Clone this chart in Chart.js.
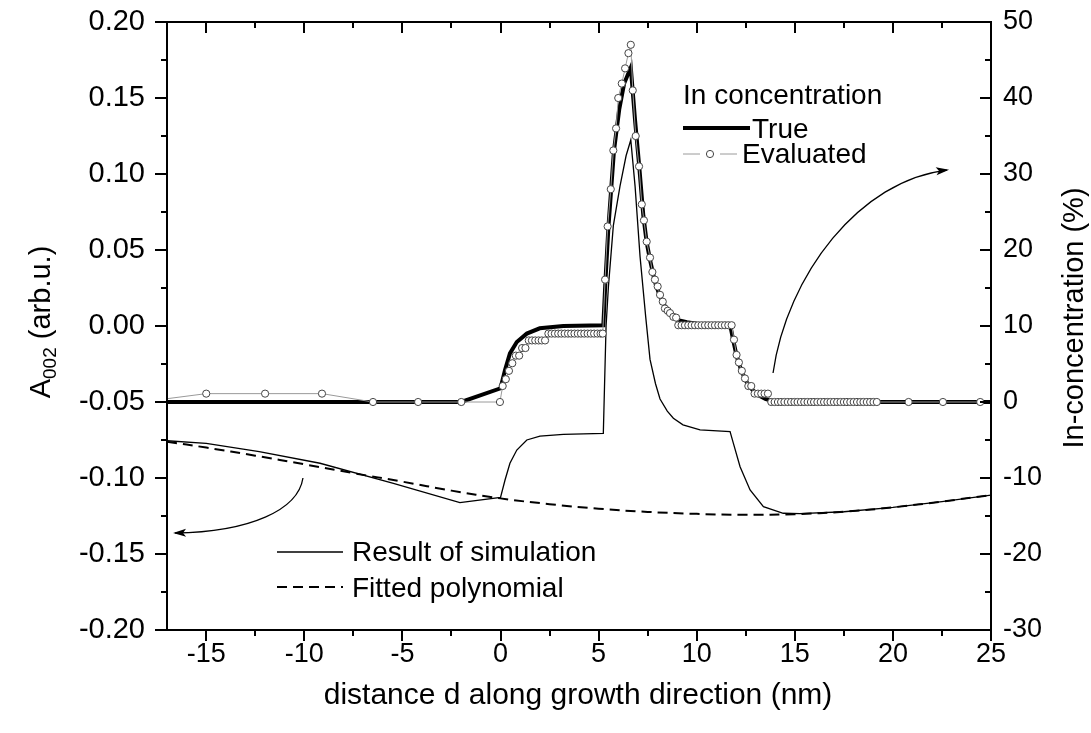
<!DOCTYPE html>
<html>
<head>
<meta charset="utf-8">
<title>A002 e concentração de In</title>
<script src="https://cdn.jsdelivr.net/npm/chart.js@4.4.0/dist/chart.umd.min.js"></script>
<style>
  html, body { margin: 0; padding: 0; background: #fff; }
</style>
</head>
<body>
<canvas id="grafico" width="1091" height="733"></canvas>
<script>
// ------------------------------------------------------------
// Dados
// ------------------------------------------------------------

// Eixos: ticks principais e secundários
const X_TICKS   = [-15, -10, -5, 0, 5, 10, 15, 20, 25];
const X_MINOR   = [-12.5, -7.5, -2.5, 2.5, 7.5, 12.5, 17.5, 22.5];
const Y_TICKS   = [-0.2, -0.15, -0.1, -0.05, 0, 0.05, 0.1, 0.15, 0.2];
const Y_MINOR   = [-0.175, -0.125, -0.075, -0.025, 0.025, 0.075, 0.125, 0.175];
const Y2_TICKS  = [-30, -20, -10, 0, 10, 20, 30, 40, 50];
const Y2_MINOR  = [-25, -15, -5, 5, 15, 25, 35, 45];

// In concentration — True (eixo da direita, %)
const distTrue = [-17, -2, 0, 0.23, 0.48, 0.83, 1.34, 2.0, 3.2, 5.24,
                  5.35, 5.5, 5.78, 6.05, 6.3, 6.64, 6.86, 7.07, 7.28, 7.45,
                  7.62, 7.87, 8.13, 8.3, 8.5, 8.8, 9.0, 9.5, 10.0, 11.7,
                  11.87, 12.04, 12.29, 12.63, 13.06, 13.5, 14.0, 25];
const concTrue = [0, 0, 1.8, 4.2, 6.4, 7.9, 9.0, 9.7, 10.0, 10.1,
                  16, 23, 33, 38.5, 41.9, 44, 37, 31, 24.5, 21,
                  18.7, 15.8, 13.9, 13.0, 12.0, 11.2, 10.8, 10.5, 10.3, 10.2,
                  8.0, 6.0, 4.0, 2.2, 1.0, 0.4, 0, 0];

// In concentration — Evaluated (eixo da direita, %)
const distEval = [-18.3, -15, -12, -9.1, -6.5, -4.2, -2.0, -0.03,
                  0.11, 0.27, 0.43, 0.6, 0.78, 0.95, 1.1, 1.27,
                  1.44, 1.6, 1.77, 1.94, 2.1, 2.27,
                  2.44, 2.6, 2.77, 2.94, 3.1, 3.27, 3.44, 3.6, 3.77, 3.94,
                  4.1, 4.27, 4.44, 4.6, 4.77, 4.94, 5.1, 5.21,
                  5.33, 5.46, 5.62, 5.75, 5.89, 6.0, 6.18, 6.35, 6.52, 6.64,
                  6.74, 6.89, 7.06, 7.2, 7.31, 7.45, 7.62, 7.74, 7.87, 8.01,
                  8.13, 8.27, 8.38, 8.52, 8.64, 8.81, 8.95,
                  9.06, 9.23, 9.4, 9.57, 9.74, 9.91, 10.08, 10.25, 10.42,
                  10.59, 10.76, 10.93, 11.1, 11.27, 11.44, 11.61, 11.78,
                  11.9, 12.03, 12.15, 12.3, 12.46, 12.63, 12.78,
                  12.95, 13.12, 13.29, 13.46, 13.63,
                  13.8, 13.97, 14.14, 14.3, 14.47, 14.64, 14.81, 14.98, 15.14,
                  15.31, 15.48, 15.65, 15.82, 15.98, 16.15, 16.32, 16.49, 16.66,
                  16.82, 16.99, 17.16, 17.33, 17.5, 17.66, 17.83, 18.0, 18.17,
                  18.34, 18.5, 18.67, 18.84, 19.01, 19.18,
                  20.8, 22.55, 24.45, 26.5];
const concEval = [0, 1.1, 1.1, 1.1, 0, 0, 0, 0,
                  2.1, 3.0, 4.1, 5.1, 6.1, 6.1, 7.1, 7.1,
                  8.1, 8.1, 8.1, 8.1, 8.1, 8.1,
                  9.0, 9.0, 9.0, 9.0, 9.0, 9.0, 9.0, 9.0, 9.0, 9.0,
                  9.0, 9.0, 9.0, 9.0, 9.0, 9.0, 9.0, 9.0,
                  16.1, 23.1, 28, 33.1, 36, 40, 41.9, 43.9, 45.9, 47,
                  41, 35, 31, 26, 23.9, 21.1, 19, 17.1, 16.1, 15.2,
                  14.1, 13.2, 12.3, 12.0, 11.7, 11.2, 11.1,
                  10.1, 10.1, 10.1, 10.1, 10.1, 10.1, 10.1, 10.1, 10.1,
                  10.1, 10.1, 10.1, 10.1, 10.1, 10.1, 10.1, 10.1,
                  8.2, 6.2, 5.2, 4.1, 3.1, 2.1, 2.1,
                  1.1, 1.1, 1.1, 1.1, 1.1,
                  0, 0, 0, 0, 0, 0, 0, 0, 0,
                  0, 0, 0, 0, 0, 0, 0, 0, 0,
                  0, 0, 0, 0, 0, 0, 0, 0, 0,
                  0, 0, 0, 0, 0, 0,
                  0, 0, 0, 0];

// Result of simulation (eixo da esquerda, A002)
const distSim = [-17, -15, -12.3, -9.2, -5.46, -2.07, 0, 0.23, 0.48, 0.83,
                 1.34, 2.01, 3.2, 5.24, 5.3, 5.38, 5.5, 5.75, 6.09, 6.4,
                 6.64, 6.86, 7.11, 7.4, 7.62, 7.9, 8.13, 8.5, 8.81, 9.3,
                 10.17, 11.7, 11.87, 12.21, 12.72, 13.4, 14.41, 15.26, 17.5, 20,
                 22.5, 25];
const ampSim  = [-0.0755, -0.0772, -0.0827, -0.0903, -0.1035, -0.1162, -0.1127, -0.1013, -0.0903, -0.0816,
                 -0.075, -0.0724, -0.0713, -0.0706, -0.04, 0.0, 0.026, 0.066, 0.092, 0.112,
                 0.1224, 0.0917, 0.046, 0.006, -0.022, -0.038, -0.048, -0.056, -0.0607, -0.065,
                 -0.0684, -0.0695, -0.0772, -0.0926, -0.1079, -0.1189, -0.1232, -0.1235, -0.1222, -0.1193,
                 -0.1155, -0.1112];

// Fitted polynomial (eixo da esquerda)
const distFit = [-17, -15, -12.5, -10, -7.5, -5, -2.5, 0, 2.5, 5,
                 7.5, 10, 12.5, 15, 17.5, 20, 22.5, 25];
const ampFit  = [-0.0761, -0.0800, -0.0853, -0.0910, -0.0968, -0.1024, -0.1083, -0.1134, -0.1172, -0.1202,
                 -0.1223, -0.1236, -0.1242, -0.1238, -0.1222, -0.1193, -0.1155, -0.1112];

// Setas curvas (coordenadas de dados, eixo x / eixo esquerdo)
const setaEsquerda = [[-10.07, -0.1000], [-10.32, -0.1211], [-12.77, -0.1355], [-16.59, -0.1362]];
const setaDireita  = [[13.89, -0.0309], [14.60, 0.0336], [18.32, 0.0961], [22.76, 0.1026]];


// ------------------------------------------------------------
// Estilo
// ------------------------------------------------------------
const FAMILIA = '"Liberation Sans", Arial, sans-serif';
const FONTE_TICK = 27;
const FONTE_TICK_Y = 29;
const FONTE_TEXTO = `28px ${FAMILIA}`;
const FONTE_TITULO = `29px ${FAMILIA}`;
const FONTE_TITULO_X = `30px ${FAMILIA}`;
const FONTE_SUB = `19px ${FAMILIA}`;

const pares = (xs, ys) => xs.map((x, i) => ({ x, y: ys[i] }));


// Moldura e ticks (esquerda/baixo para fora, topo/direita para dentro)
const molduraPlugin = {
  id: 'moldura',
  afterDatasetsDraw(chart) {
    const { ctx, chartArea: a, scales } = chart;
    const linha = (x1, y1, x2, y2) => {
      ctx.beginPath(); ctx.moveTo(x1, y1); ctx.lineTo(x2, y2); ctx.stroke();
    };
    ctx.save();
    ctx.strokeStyle = '#000';
    ctx.lineWidth = 2;
    ctx.strokeRect(a.left, a.top, a.right - a.left, a.bottom - a.top);

    const xTick = (vals, len) => vals.forEach(v => {
      const px = Math.round(scales.x.getPixelForValue(v));
      linha(px, a.bottom, px, a.bottom + len);
      linha(px, a.top, px, a.top + len);
    });
    xTick(X_TICKS, 11);
    xTick(X_MINOR, 6);

    Y_TICKS.forEach(v => { const py = Math.round(scales.y.getPixelForValue(v)); linha(a.left - 12, py, a.left, py); });
    Y_MINOR.forEach(v => { const py = Math.round(scales.y.getPixelForValue(v)); linha(a.left - 6, py, a.left, py); });
    Y2_TICKS.forEach(v => { const py = Math.round(scales.y2.getPixelForValue(v)); linha(a.right - 11, py, a.right, py); });
    Y2_MINOR.forEach(v => { const py = Math.round(scales.y2.getPixelForValue(v)); linha(a.right - 6, py, a.right, py); });
    ctx.restore();
  }
};


// Títulos dos eixos, legendas e setas
const anotacoesPlugin = {
  id: 'anotacoes',
  afterDraw(chart) {
    const { ctx, chartArea: a, scales } = chart;
    ctx.save();
    ctx.fillStyle = '#000';
    ctx.strokeStyle = '#000';

    // título do eixo x
    ctx.font = FONTE_TITULO_X;
    ctx.textAlign = 'center';
    ctx.textBaseline = 'alphabetic';
    ctx.fillText('distance d along growth direction (nm)', 578, 704);

    // título esquerdo com subscrito
    ctx.save();
    ctx.translate(40, 322);
    ctx.rotate(-Math.PI / 2);
    ctx.textAlign = 'left';
    ctx.font = FONTE_TITULO;
    const wA = ctx.measureText('A').width;
    const wResto = ctx.measureText(' (arb.u.)').width;
    ctx.font = FONTE_SUB;
    const wSub = ctx.measureText('002').width;
    let px = -(wA + wSub + wResto) / 2;
    ctx.font = FONTE_TITULO;
    ctx.fillText('A', px, 10);
    px += wA;
    ctx.font = FONTE_SUB;
    ctx.fillText('002', px, 16);
    px += wSub;
    ctx.font = FONTE_TITULO;
    ctx.fillText(' (arb.u.)', px, 10);
    ctx.restore();

    // título direito
    ctx.save();
    ctx.translate(1073, 318);
    ctx.rotate(-Math.PI / 2);
    ctx.textAlign = 'center';
    ctx.font = FONTE_TITULO;
    ctx.fillText('In-concentration (%)', 0, 10);
    ctx.restore();

    // legenda de cima
    ctx.textAlign = 'left';
    ctx.font = FONTE_TEXTO;
    ctx.fillText('In concentration', 683, 104);
    ctx.lineWidth = 4;
    ctx.beginPath(); ctx.moveTo(683, 128); ctx.lineTo(750, 128); ctx.stroke();
    ctx.fillText('True', 752, 138);
    ctx.lineWidth = 1;
    ctx.strokeStyle = '#9a9a9a';
    ctx.beginPath(); ctx.moveTo(683, 154); ctx.lineTo(700, 154); ctx.moveTo(720, 154); ctx.lineTo(737, 154); ctx.stroke();
    ctx.strokeStyle = '#444';
    ctx.fillStyle = '#fff';
    ctx.beginPath(); ctx.arc(710, 154, 3.6, 0, Math.PI * 2); ctx.fill(); ctx.stroke();
    ctx.fillStyle = '#000';
    ctx.strokeStyle = '#000';
    ctx.fillText('Evaluated', 742, 163);

    // legenda de baixo
    ctx.lineWidth = 1.3;
    ctx.beginPath(); ctx.moveTo(277, 552); ctx.lineTo(343, 552); ctx.stroke();
    ctx.fillText('Result of simulation', 352, 561);
    ctx.lineWidth = 2;
    ctx.setLineDash([10, 6]);
    ctx.beginPath(); ctx.moveTo(277, 587); ctx.lineTo(343, 587); ctx.stroke();
    ctx.setLineDash([]);
    ctx.fillText('Fitted polynomial', 352, 597);

    // setas curvas
    const desenharSeta = pts => {
      const p = pts.map(([x, y]) => [scales.x.getPixelForValue(x), scales.y.getPixelForValue(y)]);
      ctx.lineWidth = 1.3;
      ctx.beginPath();
      ctx.moveTo(p[0][0], p[0][1]);
      ctx.bezierCurveTo(p[1][0], p[1][1], p[2][0], p[2][1], p[3][0], p[3][1]);
      ctx.stroke();
      const dx = p[3][0] - p[2][0], dy = p[3][1] - p[2][1];
      const n = Math.hypot(dx, dy), ux = dx / n, uy = dy / n;
      ctx.beginPath();
      ctx.moveTo(p[3][0] + ux * 2, p[3][1] + uy * 2);
      ctx.lineTo(p[3][0] - ux * 11 - uy * 4, p[3][1] - uy * 11 + ux * 4);
      ctx.lineTo(p[3][0] - ux * 8, p[3][1] - uy * 8);
      ctx.lineTo(p[3][0] - ux * 11 + uy * 4, p[3][1] - uy * 11 - ux * 4);
      ctx.closePath();
      ctx.fill();
    };
    desenharSeta(setaEsquerda);
    desenharSeta(setaDireita);

    ctx.restore();
  }
};


// ------------------------------------------------------------
// Gráfico
// ------------------------------------------------------------
// afterFit fixa o tamanho de cada eixo e zera o "padding" que o
// Chart.js reserva para os rótulos das pontas — assim a área do
// gráfico fica exatamente onde está na figura original.
const fixarLargura = w => s => { s.width = w; s.paddingTop = 0; s.paddingBottom = 0; };

const eixoBase = {
  type: 'linear',
  grid: { display: false, drawTicks: false },
  border: { display: false },
};

new Chart(document.getElementById('grafico'), {
  type: 'scatter',
  data: {
    datasets: [
      {
        label: 'Evaluated',
        data: pares(distEval, concEval),
        yAxisID: 'y2',
        showLine: true,
        borderColor: '#9a9a9a',
        borderWidth: 1,
        pointRadius: 3.6,
        pointBackgroundColor: '#fff',
        pointBorderColor: '#444',
        pointBorderWidth: 1,
        order: 0,
      },
      {
        label: 'True',
        data: pares(distTrue, concTrue),
        yAxisID: 'y2',
        showLine: true,
        borderColor: '#000',
        borderWidth: 4,
        pointRadius: 0,
        order: 1,
      },
      {
        label: 'Result of simulation',
        data: pares(distSim, ampSim),
        yAxisID: 'y',
        showLine: true,
        borderColor: '#000',
        borderWidth: 1.3,
        pointRadius: 0,
        order: 2,
      },
      {
        label: 'Fitted polynomial',
        data: pares(distFit, ampFit),
        yAxisID: 'y',
        showLine: true,
        borderColor: '#000',
        borderWidth: 2,
        borderDash: [10, 6],
        tension: 0.4,
        pointRadius: 0,
        order: 3,
      },
    ]
  },
  options: {
    responsive: false,
    animation: false,
    devicePixelRatio: 1,
    layout: { padding: { top: 22, left: 0, right: 0, bottom: 0 } },
    plugins: { legend: { display: false }, tooltip: { enabled: false } },
    scales: {
      x: {
        ...eixoBase,
        position: 'bottom',
        min: -17, max: 25,
        afterBuildTicks: s => { s.ticks = X_TICKS.map(v => ({ value: v })); },
        afterFit: s => { s.height = 103; s.paddingLeft = 0; s.paddingRight = 0; },
        ticks: { color: '#000', font: { family: FAMILIA, size: FONTE_TICK }, padding: 8, maxRotation: 0,
                 callback: v => String(v) },
      },
      y: {
        ...eixoBase,
        position: 'left',
        min: -0.2, max: 0.2,
        afterBuildTicks: s => { s.ticks = Y_TICKS.map(v => ({ value: v })); },
        afterFit: fixarLargura(167),
        ticks: { color: '#000', font: { family: FAMILIA, size: FONTE_TICK_Y }, padding: 22,
                 callback: v => v.toFixed(2) },
      },
      y2: {
        ...eixoBase,
        position: 'right',
        min: -30, max: 50,
        afterBuildTicks: s => { s.ticks = Y2_TICKS.map(v => ({ value: v })); },
        afterFit: fixarLargura(100),
        ticks: { color: '#000', font: { family: FAMILIA, size: FONTE_TICK }, padding: 12,
                 callback: v => String(v) },
      },
    }
  },
  plugins: [molduraPlugin, anotacoesPlugin]
});
</script>
</body>
</html>
